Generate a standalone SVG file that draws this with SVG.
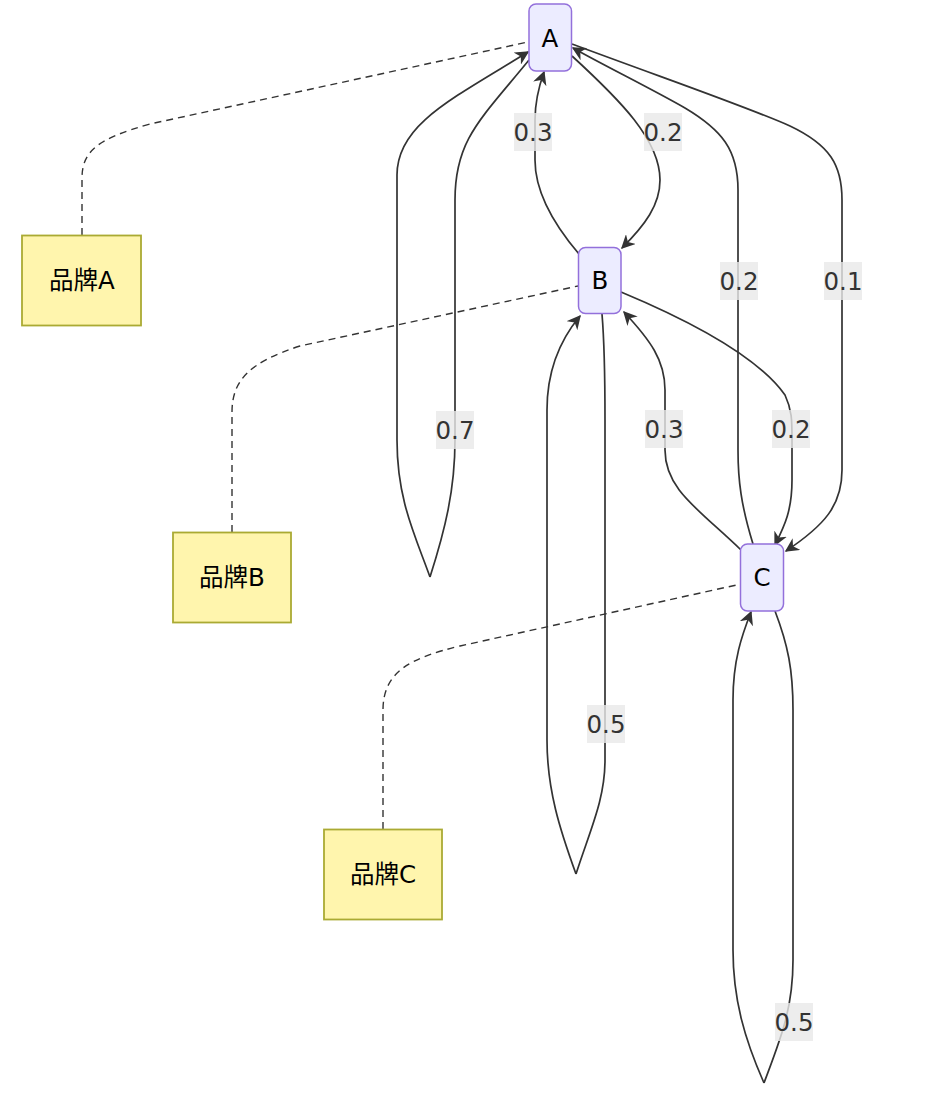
<svg xmlns="http://www.w3.org/2000/svg" width="928" height="1098" viewBox="0 0 928 1098">
<style>
.node rect{fill:#ECECFF;stroke:#9370DB;stroke-width:1.5}
.note rect{fill:#FFF5AD;stroke:#AAAA33;stroke-width:1.8}
text{font-family:"DejaVu Sans","Noto Sans CJK SC",sans-serif;font-size:24.5px;fill:#000;text-anchor:middle;dominant-baseline:central}
.edge{fill:none;stroke:#333;stroke-width:1.7}
.dash{fill:none;stroke:#333;stroke-width:1.4;stroke-dasharray:7 5}
.lbl rect{fill:#e8e8e8;opacity:0.8}
.lbl text{fill:#333}
</style>
<defs>
<marker id="arr" viewBox="0 0 10 10" refX="9" refY="5" markerWidth="14" markerHeight="14" markerUnits="userSpaceOnUse" orient="auto">
<path d="M0,0 L10,5 L0,10 L3,5 z" fill="#333"/>
</marker>
</defs>
<g id="connectors">
<path class="dash" d="M82,235 L82,178 C82,150 100,138 150,124 L528,42"/>
<path class="dash" d="M232,532 L232,412 C232,380 250,362 300,346 L578,286"/>
<path class="dash" d="M383,829 L383,710 C383,672 410,658 460,646 L741,584"/>
<path class="edge" d="M529,60 C480,120 455,140 455,200 L455,440 C455,490 445,530 430,577"/>
<path class="edge" marker-end="url(#arr)" d="M430,577 C415,535 397,500 397,440 L397,175 C397,125 450,100 528,52"/>
<path class="edge" marker-end="url(#arr)" d="M579,254 C550,220 535,190 535,160 L535,120 C535,100 539,86 544,72"/>
<path class="edge" marker-end="url(#arr)" d="M572,56 C620,100 660,140 660,180 C660,205 645,225 622,248"/>
<path class="edge" marker-end="url(#arr)" d="M753,544 C741,505 738,480 738,450 L738,190 C738,150 722,130 685,108 C650,88 605,66 573,48"/>
<path class="edge" marker-end="url(#arr)" d="M572,44 C680,84 750,108 790,126 C830,145 842,165 842,200 L842,470 C842,505 825,525 786,551"/>
<path class="edge" marker-end="url(#arr)" d="M621,292 C700,325 760,360 785,395 C792,410 792,420 792,440 L792,480 C792,510 785,525 775,545"/>
<path class="edge" marker-end="url(#arr)" d="M741,550 C700,510 665,490 665,450 L665,390 C665,360 650,340 624,312"/>
<path class="edge" d="M602,314 C605,350 605,380 605,420 L605,760 C605,800 590,830 576,874"/>
<path class="edge" marker-end="url(#arr)" d="M576,874 C560,830 547,790 547,740 L547,410 C547,370 560,340 580,316"/>
<path class="edge" d="M775,611 C788,645 793,670 793,710 L793,960 C793,1010 780,1040 764,1083"/>
<path class="edge" marker-end="url(#arr)" d="M764,1083 C745,1040 733,1000 733,950 L733,700 C733,660 742,635 751,612"/>
</g>
<g id="edge-labels">
<g class="lbl"><rect x="436" y="411" width="38" height="38"/><text x="455" y="430">0.7</text></g>
<g class="lbl"><rect x="514" y="113" width="38" height="38"/><text x="533" y="132">0.3</text></g>
<g class="lbl"><rect x="644" y="113" width="38" height="38"/><text x="663" y="132">0.2</text></g>
<g class="lbl"><rect x="720" y="262" width="38" height="38"/><text x="739" y="281">0.2</text></g>
<g class="lbl"><rect x="824" y="262" width="38" height="38"/><text x="843" y="281">0.1</text></g>
<g class="lbl"><rect x="645" y="410" width="38" height="38"/><text x="664" y="429">0.3</text></g>
<g class="lbl"><rect x="772" y="410" width="38" height="38"/><text x="791" y="429">0.2</text></g>
<g class="lbl"><rect x="587" y="705" width="38" height="38"/><text x="606" y="724">0.5</text></g>
<g class="lbl"><rect x="775" y="1003" width="38" height="38"/><text x="794" y="1022">0.5</text></g>
</g>
<g id="node-A" class="node"><rect x="529" y="4" width="42.5" height="67" rx="7"/><text x="550" y="38">A</text></g>
<g id="node-B" class="node"><rect x="578.5" y="247.5" width="42.5" height="66" rx="7"/><text x="600" y="280">B</text></g>
<g id="node-C" class="node"><rect x="740.5" y="544" width="43" height="67" rx="7"/><text x="762" y="577">C</text></g>
<g id="note-A" class="note"><rect x="22" y="235.5" width="119" height="90"/><text x="82" y="280">品牌A</text></g>
<g id="note-B" class="note"><rect x="173" y="532.5" width="118" height="90"/><text x="232" y="577">品牌B</text></g>
<g id="note-C" class="note"><rect x="324" y="829.5" width="118" height="90"/><text x="383" y="874">品牌C</text></g>
</svg>
